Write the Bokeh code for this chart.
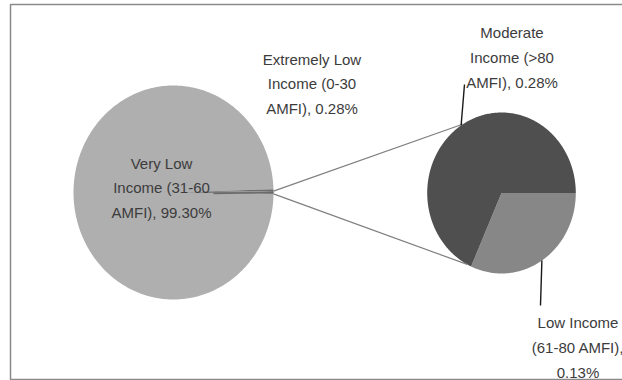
import numpy as np
from bokeh.plotting import figure
from bokeh.models import Range1d, ColumnDataSource
from bokeh.core.properties import value
from bokeh.embed import file_html
from bokeh.resources import INLINE

# ---- data ----
categories = ["Very Low Income (31-60 AMFI)", "Extremely Low Income (0-30 AMFI)",
              "Moderate Income (>80 AMFI)", "Low Income (61-80 AMFI)"]
shares = [99.30, 0.28, 0.28, 0.13]
label_lines = [["Very Low", "Income (31-60", "AMFI), 99.30%"],
               ["Extremely Low", "Income (0-30", "AMFI), 0.28%"],
               ["Moderate", "Income (>80", "AMFI), 0.28%"],
               ["Low Income", "(61-80 AMFI),", "0.13%"]]
main_idx = [0, 1]          # shown directly in the first pie
second_idx = [3, 2]        # split out into the second pie (clockwise order)

# ---- layout / style ----
W, H = 622, 380
MAIN = dict(cx=173, cy=192, rx=100, ry=107)
SEC = dict(cx=501, cy=192.5, rx=74.3, ry=80.5)
main_colors = ["#afafaf", "#6e6e6e", "#7a7a7a"]
sec_colors = {3: "#878787", 2: "#4f4f4f"}
TXT = "#3c3c3c"
FONT = "Liberation Sans"


def ell_pt(e, a_deg):
    a = np.radians(a_deg)
    return e["cx"] + e["rx"] * np.cos(a), e["cy"] - e["ry"] * np.sin(a)


def wedge_poly(e, a0, a1, n=120):
    t = np.linspace(a0, a1, max(int(abs(a1 - a0) / 360 * n) + 2, 3))
    xs, ys = ell_pt(e, t)
    return [e["cx"]] + list(xs) + [e["cx"]], [e["cy"]] + list(ys) + [e["cy"]]


p = figure(width=W, height=H, output_backend="svg", toolbar_location=None,
           x_range=Range1d(0, W), y_range=Range1d(H, 0),
           min_border=0, outline_line_color=None)
p.axis.visible = False
p.grid.visible = False
p.background_fill_color = "white"
p.border_fill_color = "white"

# chart area border
p.quad(left=[10], right=[W + 10], top=[4], bottom=[379], fill_color=None,
       line_color="#8a8a8a", line_width=1.5)

# ---- main pie ----
other = sum(shares[i] for i in second_idx)
main_vals = [shares[i] for i in main_idx] + [other]
total = sum(main_vals)
# "other" slice centred on the right (0 deg); remaining slices go counter-clockwise
o_span = other / total * 360
start = -o_span / 2
order = [2, 1, 0]
a = start
polys = {}
spans = {}
for k in order:
    span = main_vals[k] / total * 360
    polys[k] = wedge_poly(MAIN, a, a + span, n=400)
    spans[k] = (a, a + span)
    a += span
for k in [0, 1, 2]:
    xs, ys = polys[k]
    p.patch(xs, ys, fill_color=main_colors[k], line_color=None)

# ---- second pie ----
sec_total = sum(shares[i] for i in second_idx)
a = 0.0
sec_mid = {}
for i in second_idx:
    span = shares[i] / sec_total * 360
    xs, ys = wedge_poly(SEC, a - span, a, n=400)
    p.patch(xs, ys, fill_color=sec_colors[i], line_color=None)
    sec_mid[i] = a - span / 2
    a -= span

# ---- connector lines ----
o0, o1 = spans[2]
x0a, y0a = ell_pt(MAIN, o1)
x0b, y0b = ell_pt(MAIN, o0)
x1a, y1a = ell_pt(SEC, 121)
x1b, y1b = ell_pt(SEC, -117.5)
p.segment(x0=[x0a, x0b], y0=[y0a, y0b], x1=[x1a, x1b], y1=[y1a, y1b],
          line_color="#7f7f7f", line_width=1.2)

# ---- leader lines ----
mx, my = ell_pt(SEC, sec_mid[2])
lx, ly = ell_pt(SEC, sec_mid[3])
p.segment(x0=[464, 540], y0=[84, 305], x1=[mx, lx], y1=[my, ly],
          line_color="#1a1a1a", line_width=1.4)
rx_, ry_ = ell_pt(MAIN, 0)
p.segment(x0=[213], y0=[193], x1=[rx_], y1=[ry_], line_color="#6a6a6a", line_width=1.3)

# ---- labels ----
lab_x = [161, 311.5, 511.5, 577.5]
lab_y = [187.5, 83.5, 57, 347]
src = ColumnDataSource(dict(x=lab_x, y=lab_y, t=["\n".join(l) for l in label_lines]))
p.text(x="x", y="y", text="t", source=src, text_font=value(FONT),
       text_font_size="15px", text_color=TXT, text_align="center",
       text_baseline="middle", text_line_height=1.47)

open("out.html", "w").write(file_html(p, INLINE))
